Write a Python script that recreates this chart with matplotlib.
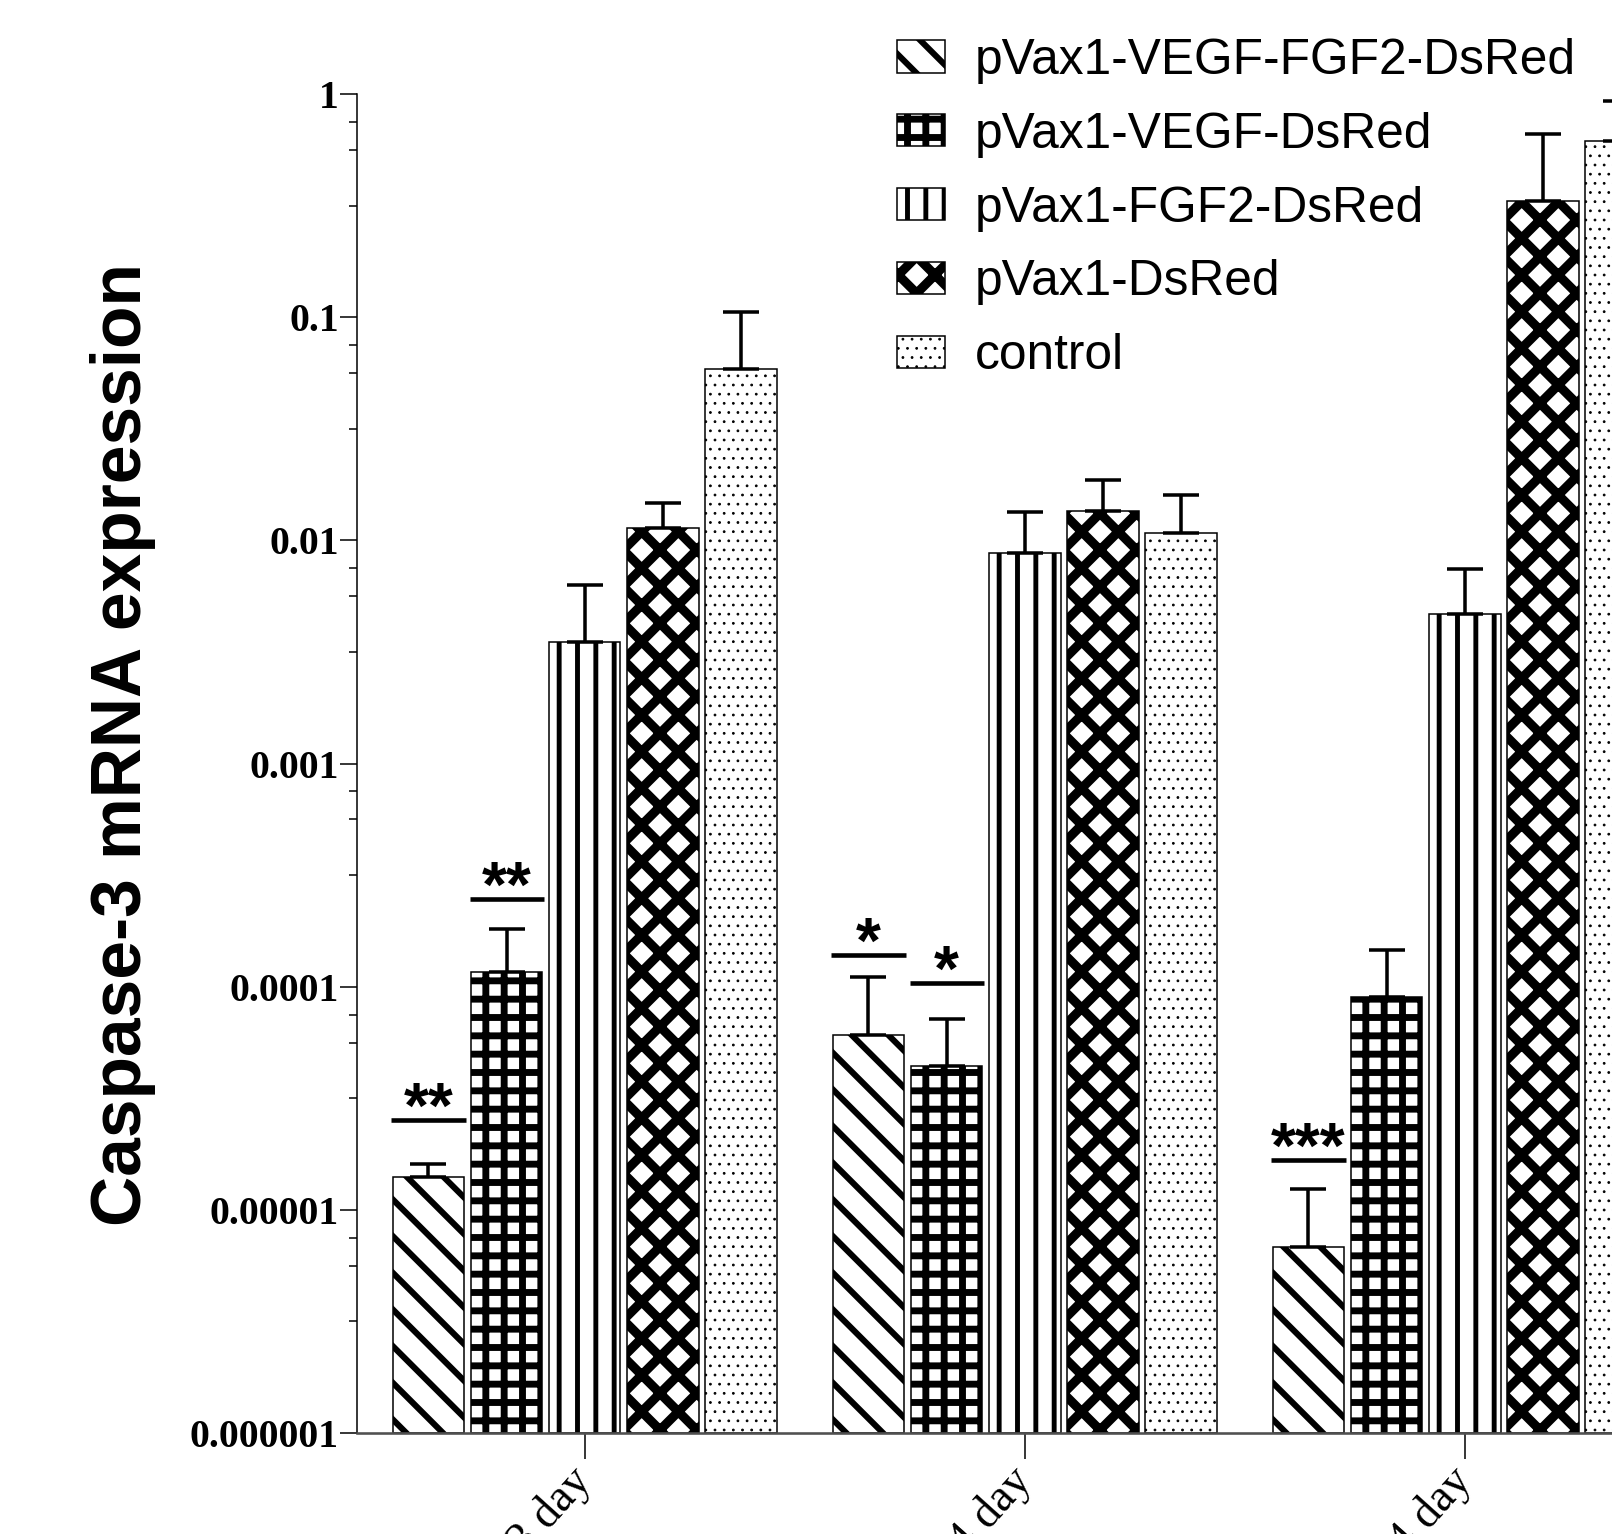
import matplotlib
matplotlib.use('Agg')
import matplotlib.pyplot as plt
import numpy as np
from matplotlib.ticker import FixedLocator, NullFormatter

DPI = 110

groups = ['3 day', '14 day', '24 day']
series = ['pVax1-VEGF-FGF2-DsRed', 'pVax1-VEGF-DsRed', 'pVax1-FGF2-DsRed',
          'pVax1-DsRed', 'control']

# mean expression per series, one value per group
vegf_fgf2 = [1.40e-5, 6.05e-5, 6.8e-6]
vegf = [1.16e-4, 4.4e-5, 8.96e-5]
fgf2 = [3.5e-3, 8.75e-3, 4.67e-3]
dsred = [0.0114, 0.0135, 0.331]
control = [0.0586, 0.0108, 0.613]

# upper error (SD)
vegf_fgf2_sd = [0.2e-5, 5.05e-5, 5.6e-6]
vegf_sd = [6.5e-5, 2.8e-5, 5.6e-5]
fgf2_sd = [2.8e-3, 4.65e-3, 2.78e-3]
dsred_sd = [0.0033, 0.0051, 0.329]
control_sd = [0.0464, 0.0052, 0.317]

means = [vegf_fgf2, vegf, fgf2, dsred, control]
sds = [vegf_fgf2_sd, vegf_sd, fgf2_sd, dsred_sd, control_sd]

# significance marks
sig_group = [0, 0, 1, 1, 2]
sig_series = [0, 1, 0, 1, 0]
sig_text = ['**', '**', '*', '*', '***']
sig_level = [2.53e-5, 2.46e-4, 1.39e-4, 1.04e-4, 1.67e-5]

ytick_vals = [1e-6, 1e-5, 1e-4, 1e-3, 1e-2, 1e-1, 1]
ytick_labels = ['0.000001', '0.00001', '0.0001', '0.001', '0.01', '0.1', '1']

hatches = ['\\', '+', '|', 'x', '..']
hatch_lw = [4.0, 4.5, 3.2, 6.0, 0.6]

BASE = 1e-6

fig = plt.figure(figsize=(1612 / DPI, 1534 / DPI), dpi=DPI)
ax = fig.add_axes([0.2215, 0.0658, 0.8373, 0.8729])
ax.set_yscale('log')
ax.set_ylim(BASE, 1)
ax.set_xlim(-0.5175, 2.55)

x = np.arange(len(groups))
pitch = 0.1776
width = 0.1624

handles = []
positions = []
for i, (name, m, sd, h, hl) in enumerate(zip(series, means, sds, hatches, hatch_lw)):
    pos = x + (i - 2) * pitch
    positions.append(pos)
    m = np.array(m)
    with plt.rc_context({'hatch.linewidth': hl}):
        bars = ax.bar(pos, m - BASE, width, bottom=BASE, color='white',
                      edgecolor='black', linewidth=1.0, hatch=h, label=name,
                      zorder=2)
    for b in bars:
        if hasattr(b, 'set_hatch_linewidth'):
            b.set_hatch_linewidth(hl)
    handles.append(bars)
    ax.errorbar(pos, m, yerr=[np.zeros(len(m)), sd], fmt='none',
                ecolor='black', elinewidth=2.3, capsize=11.5, capthick=2.3,
                zorder=3)

for g, s, t, lvl in zip(sig_group, sig_series, sig_text, sig_level):
    xc = positions[s][g]
    ax.plot([xc - width / 2 - 0.003, xc + width / 2 + 0.003], [lvl, lvl],
            color='black', lw=3.0, solid_capstyle='butt', zorder=4)
    ax.annotate(t, (xc, lvl), xytext=(0, -5), textcoords='offset points',
                ha='center', va='baseline', fontsize=42,
                family='Liberation Sans', weight='bold')

for side in ['top', 'right']:
    ax.spines[side].set_visible(False)
ax.spines['left'].set_linewidth(1.0)
ax.spines['bottom'].set_linewidth(1.7)
ax.spines['bottom'].set_color('#505050')

ax.yaxis.set_major_locator(FixedLocator(ytick_vals))
ax.set_yticklabels(ytick_labels, family='Liberation Serif', weight='bold',
                   fontsize=26)
minor = [10 ** (k - f) for k in range(0, -6, -1) for f in (0.125, 0.25, 0.5)]
ax.yaxis.set_minor_locator(FixedLocator(minor))
ax.yaxis.set_minor_formatter(NullFormatter())
ax.tick_params(axis='y', which='major', length=11, width=1.0, pad=1)
ax.tick_params(axis='y', which='minor', length=5.5, width=1.0)

ax.set_xticks(x)
ax.set_xticklabels(groups, family='Liberation Serif', fontsize=30,
                   rotation=48, ha='right', va='center', rotation_mode='anchor')
ax.tick_params(axis='x', length=17, width=1.0, pad=10)

fig.text(123 / 1612, 1 - 745 / 1534, 'Caspase-3 mRNA expression',
         rotation=90, ha='center', va='center', fontsize=45.5,
         family='Liberation Sans', weight='bold')

leg = fig.legend(handles, series, loc='upper left',
                 bbox_to_anchor=(897 / 1612, 1 - 38 / 1534), frameon=False,
                 prop={'family': 'Liberation Sans', 'size': 32.5},
                 handlelength=0.96, handleheight=0.62, handletextpad=0.6,
                 labelspacing=0.56, borderpad=0, borderaxespad=0)
for p, hl in zip(leg.legend_handles, hatch_lw):
    if hasattr(p, 'set_hatch_linewidth'):
        p.set_hatch_linewidth(hl)

fig.savefig('out.png', dpi=DPI, facecolor='white')
